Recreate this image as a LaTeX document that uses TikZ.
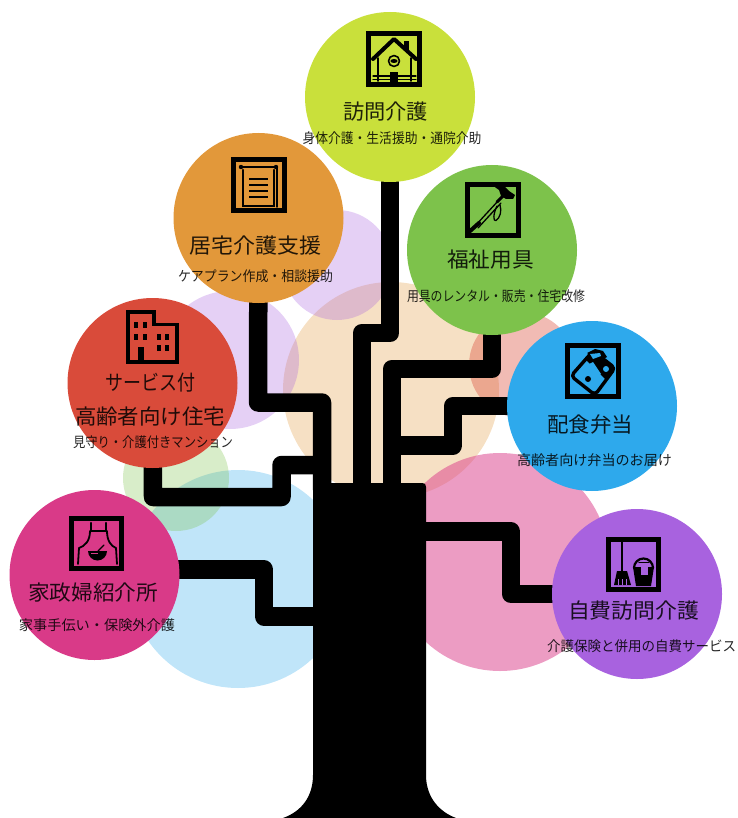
\documentclass[tikz,border=0pt]{standalone}
\usepackage{fontspec}
\usepackage{graphicx}
\setmainfont{Noto Sans CJK JP}
\usetikzlibrary{calc}
\definecolor{cLime}{HTML}{C9E03B}
\definecolor{cGreen}{HTML}{7DC24B}
\definecolor{cOrange}{HTML}{E2983A}
\definecolor{cRed}{HTML}{D94B3A}
\definecolor{cBlue}{HTML}{2EA9EC}
\definecolor{cPurple}{HTML}{A862DF}
\definecolor{cMagenta}{HTML}{D93A88}
\pgfdeclarelayer{pale}
\pgfdeclarelayer{branches}
\pgfsetlayers{pale,branches,main}
\tikzset{
  x=1pt,y=-1pt,
  bubble/.style={circle,minimum size=170pt,inner sep=0pt,fill=#1},
  palecircle/.style={fill=#1,opacity=.3},
  branch/.style={draw=black,line width=18.5pt,line join=round},
  label/.style={inner sep=0pt,text opacity=.85,text=black},
  iconbox/.style={draw=black,line width=5pt},
  ln/.style={draw=black,line width=#1,line cap=round,line join=round},
}
\newcommand{\txt}[3]{\resizebox{#1pt}{\height}{\fontsize{#2pt}{#2pt}\selectfont #3}}
\newcommand{\ibox}[1][56]{\draw[iconbox] (2.5,2.5) rectangle (#1-2.5,#1-2.5);}
\begin{document}
\begin{tikzpicture}
\useasboundingbox (0,0) rectangle (737,818);
\begin{pgfonlayer}{pale}
  \fill[palecircle=cBlue] (238,579) circle[radius=109];
  \fill[palecircle=cGreen] (176,478) circle[radius=53];
  \fill[palecircle=cOrange] (391,390) circle[radius=108];
  \fill[palecircle=cPurple] (230,360) circle[radius=69];
  \fill[palecircle=cPurple] (337,265) circle[radius=55];
  \fill[cRed,opacity=.38] (522,365) circle[radius=53];
  \fill[cMagenta,opacity=.5] (500,562) circle[radius=109];
\end{pgfonlayer}
% bubbles
\node[bubble=cLime] (home) at (390,97) {};
\node[bubble=cGreen] (tools) at (492,250) {};
\node[bubble=cOrange] (plan) at (258.5,218) {};
\node[bubble=cRed] (housing) at (152.5,383) {};
\node[bubble=cBlue] (meal) at (592,406) {};
\node[bubble=cPurple] (self) at (637,594) {};
\node[bubble=cMagenta] (maid) at (94.5,575) {};
% trunk
\begin{pgfonlayer}{branches}
  \fill[black] (313,490) -- (322,483) -- (422,483) .. controls (425,483) and (426,484) .. (426,487)
     -- (426,775) .. controls (426,798) and (440,812) .. (456,818)
     -- (283,818) .. controls (300,812) and (313,798) .. (313,775) -- cycle;
  \coordinate (tA) at (322,490);
  \coordinate (tB) at (362,490);
  \coordinate (tC) at (392,490);
  \coordinate (tD) at (320,616.5);
  \coordinate (tE) at (420,531.5);
  \draw[branch] (home.center) -- (390,333) -- (362,333) -- (tB);
  \draw[branch] (tools.center) -- (492,369) -- (392,369) -- (tC);
  \draw[branch] (meal.center) -- (453,406) -- (453,445.5) -- (392,445.5);
  \draw[branch] (plan.center) -- (258,402.5) -- (322,402.5) -- (tA);
  \draw[branch] (housing.center) -- (153,497) -- (281.5,497) -- (281.5,465) -- (322,465);
  \draw[branch] ($(maid.center)+(0,-5.5)$) -- (264,569.5) -- (264,616.5) -- (tD);
  \draw[branch] (tE) -- (511,531.5) -- (511,594) -- (self.center);
\end{pgfonlayer}
% home icon
\begin{scope}[shift={(366,31)}]
  \ibox
  \draw[ln=4pt] (7,28) -- (28,8) -- (50,28);
  \fill (38,10) rectangle (43,20);
  \draw[ln=1.7pt] (12,27) -- (12,50);
  \draw[ln=1.7pt] (45,27) -- (45,50);
  \draw[ln=1.2pt] (7,45) -- (50,45);
  \draw[ln=1.2pt] (7,48.5) -- (50,48.5);
  \fill (24,41) rectangle (32,53);
  \draw[ln=1.6pt] (28,30) ellipse[x radius=5.5,y radius=5.5];
  \fill (28,30) ellipse[x radius=3.6,y radius=2];
\end{scope}
% hammer icon
\begin{scope}[shift={(465,182)}]
  \ibox
  \fill (27,3) -- (38,3) -- (44,9) -- (50,13) -- (48,17) -- (41,17) -- (36,14) -- (34,8) -- cycle;
  \draw[ln=4pt] (4,50) -- (14,41);
  \draw[ln=1.3pt] (10,44) -- (33,19);
  \draw[ln=1.3pt] (13,46) -- (36,21);
  \draw[ln=3pt] (32,20) -- (38,14);
  \draw[ln=1.3pt] (32,24) .. controls (28,32) and (28,40) .. (31,38.5) .. controls (35,36) and (37,29) .. (35,23);
\end{scope}
% document icon
\begin{scope}[shift={(231,157)}]
  \ibox
  \draw[ln=2.2pt] (9,10) -- (46,10);
  \fill (10,10) circle[radius=2.2] (45,10) circle[radius=2.2];
  \draw[ln=1.5pt] (46,10) -- (46,50);
  \draw[ln=2.6pt,line join=miter] (12,13) -- (12,49) -- (43,49) -- (43,13);
  \draw[ln=2.2pt,line cap=butt] (18,22) -- (37,22) (18,28) -- (37,28) (18,34) -- (37,34) (18,40) -- (37,40);
\end{scope}
% building icon
\begin{scope}[shift={(126,310)}]
  \draw[line width=3.6pt,line join=miter] (1.8,1.8) -- (28,1.8) -- (28,14.5) -- (51.2,14.5) -- (51.2,52.2) -- (1.8,52.2) -- cycle;
  \foreach \p in {(10,15),(19,15),(10,27),(19,27),(33,27),(41,27),(33,38),(41,38)}
    \fill[shift={\p}] (-1.8,-3) rectangle (1.8,3);
  \fill (12,37) rectangle (18,54);
\end{scope}
% meal icon
\begin{scope}[shift={(565,343)}]
  \ibox
  \draw[ln=3.4pt,rounded corners=4pt] (6,33) -- (28,8) -- (50,25) -- (30,52) -- cycle;
  \fill (21,17) -- (28,8) -- (50,25) -- (41,37) -- cycle;
  \fill (22,10) -- (30,6) -- (38,8) -- (42,14) -- (34,18) -- cycle;
  \fill[cBlue] (25,11) -- (35,10) -- (36,13) -- (28,16) -- cycle;
  \fill[cBlue] (24,21) -- (28,19) -- (36,31) -- (33,33) -- cycle;
  \fill[cBlue] (41,26) circle[radius=3];
  \fill (23,36) circle[radius=3];
\end{scope}
% broom and bucket icon
\begin{scope}[shift={(606,537)}]
  \ibox[55]
  \draw[ln=2.4pt] (16,4) -- (16,34);
  \fill (11,34) -- (21,34) -- (25,48) -- (8,48) -- cycle;
  \draw[cPurple,line width=.8pt] (12,42) -- (12,48) (16,42) -- (16,48) (20,42) -- (20,48);
  \draw[ln=2.2pt] (28,31) arc[start angle=180,end angle=360,radius=9.5];
  \fill (27,30) -- (48,30) -- (45,49) -- (30,49) -- cycle;
  \fill[cPurple] (34.5,26) rectangle (41.5,38);
  \draw[ln=1.4pt] (33,25.5) -- (43,25.5);
\end{scope}
% apron icon
\begin{scope}[shift={(69,516)}]
  \ibox[55]
  \draw[ln=2.4pt] (22,7) -- (22,15) (37,7) -- (37,15);
  \draw[ln=1.8pt] (22,15) -- (37,15);
  \draw[ln=1.8pt] (21,15) .. controls (21,25) and (16,30) .. (10,32) -- (9,48);
  \draw[ln=1.8pt] (38,15) .. controls (38,25) and (42,30) .. (47,32) -- (48,48);
  \fill (19,35) arc[start angle=180,end angle=0,radius=9.5] -- cycle;
  \draw[ln=1.4pt] (29,35) -- (35,29);
  \fill[cMagenta] (22,37) rectangle (29,38.2);
\end{scope}
% texts
\node[label] (t1) at (385.5,112) {\txt{85}{21}{訪問介護}};
\node[label] (s1) at (392,138) {\txt{179}{14}{身体介護・生活援助・通院介助}};
\node[label] (t2) at (490.5,260) {\txt{87}{21}{福祉用具}};
\node[label] (s2) at (496,296) {\txt{178}{14}{用具のレンタル・販売・住宅改修}};
\node[label] (t3) at (255,246) {\txt{132}{21}{居宅介護支援}};
\node[label] (s3) at (255.5,276) {\txt{155}{14}{ケアプラン作成・相談援助}};
\node[label] (t4) at (150,383) {\txt{90}{21}{サービス付}};
\node[label] (t4b) at (150,416) {\txt{150}{21}{高齢者向け住宅}};
\node[label] (s4) at (153,442) {\txt{160}{14}{見守り・介護付きマンション}};
\node[label] (t5) at (590,424) {\txt{86}{21}{配食弁当}};
\node[label] (s5) at (594.5,460) {\txt{155}{14}{高齢者向け弁当のお届け}};
\node[label] (t6) at (633.5,611) {\txt{131}{21}{自費訪問介護}};
\node[label] (s6) at (641.5,646) {\txt{189}{14}{介護保険と併用の自費サービス}};
\node[label] (t7) at (93,592.5) {\txt{130}{21}{家政婦紹介所}};
\node[label] (s7) at (97,625.5) {\txt{156}{14}{家事手伝い・保険外介護}};
\end{tikzpicture}
\end{document}
